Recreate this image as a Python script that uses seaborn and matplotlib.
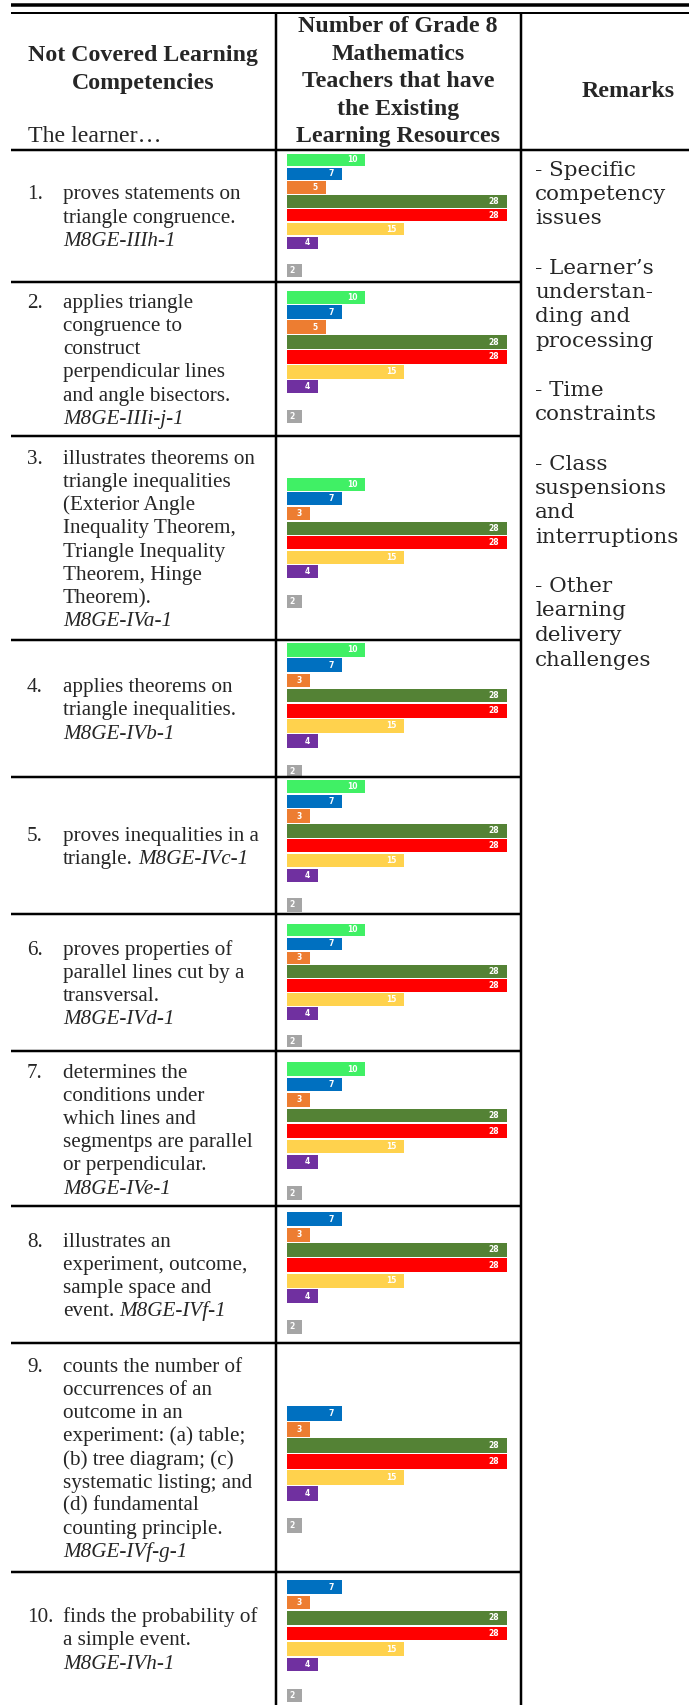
import matplotlib
matplotlib.use("Agg")
import matplotlib.pyplot as plt
import seaborn as sns
from matplotlib.lines import Line2D

# ---------------------------------------------------------------- data
resource_types = ["Textbook", "Learner's Material", "Teacher's Guide", "Module",
                  "Activity Sheets", "Video Lessons", "Worksheets", "Online Sources",
                  "Others"]
resource_colors = ["#40F065", "#0070C0", "#ED7D31", "#548235", "#FF0000",
                   "#FFD24D", "#7030A0", "#FFFFFF", "#A5A5A5"]

counts_1 = [10, 7, 5, 28, 28, 15, 4, 0, 2]
counts_2 = [10, 7, 5, 28, 28, 15, 4, 0, 2]
counts_3 = [10, 7, 3, 28, 28, 15, 4, 0, 2]
counts_4 = [10, 7, 3, 28, 28, 15, 4, 0, 2]
counts_5 = [10, 7, 3, 28, 28, 15, 4, 0, 2]
counts_6 = [10, 7, 3, 28, 28, 15, 4, 0, 2]
counts_7 = [10, 7, 3, 28, 28, 15, 4, 0, 2]
counts_8 = [0, 7, 3, 28, 28, 15, 4, 0, 2]
counts_9 = [0, 7, 3, 28, 28, 15, 4, 0, 2]
counts_10 = [0, 7, 3, 28, 28, 15, 4, 0, 2]
all_counts = [counts_1, counts_2, counts_3, counts_4, counts_5,
              counts_6, counts_7, counts_8, counts_9, counts_10]

competency_lines = [
    ["proves statements on", "triangle congruence."],
    ["applies triangle", "congruence to", "construct", "perpendicular lines",
     "and angle bisectors."],
    ["illustrates theorems on", "triangle inequalities", "(Exterior Angle",
     "Inequality Theorem,", "Triangle Inequality", "Theorem, Hinge", "Theorem)."],
    ["applies theorems on", "triangle inequalities."],
    ["proves inequalities in a", "triangle."],
    ["proves properties of", "parallel lines cut by a", "transversal."],
    ["determines the", "conditions under", "which lines and",
     "segmentps are parallel", "or perpendicular."],
    ["illustrates an", "experiment, outcome,", "sample space and", "event."],
    ["counts the number of", "occurrences of an", "outcome in an",
     "experiment: (a) table;", "(b) tree diagram; (c)", "systematic listing; and",
     "(d) fundamental", "counting principle."],
    ["finds the probability of", "a simple event."],
]
competency_codes = ["M8GE-IIIh-1", "M8GE-IIIi-j-1", "M8GE-IVa-1", "M8GE-IVb-1",
                    "M8GE-IVc-1", "M8GE-IVd-1", "M8GE-IVe-1", "M8GE-IVf-1",
                    "M8GE-IVf-g-1", "M8GE-IVh-1"]
code_inline = [False, False, False, False, True, False, False, True, False, False]

remarks_lines = ["- Specific", "competency", "issues", "",
                 "- Learner\u2019s", "understan-", "ding and", "processing", "",
                 "- Time", "constraints", "",
                 "- Class", "suspensions", "and", "interruptions", "",
                 "- Other", "learning", "delivery", "challenges"]

header_col1 = ["Not Covered Learning", "Competencies"]
header_col2 = ["Number of Grade 8", "Mathematics", "Teachers that have",
               "the Existing", "Learning Resources"]
header_col3 = "Remarks"
header_lead = "The learner\u2026"

# ---------------------------------------------------------------- layout (pixels)
W, H = 689, 1705
row_edges = [149.5, 281.5, 436, 640, 777, 914, 1051, 1206, 1343, 1572, 1705]
slot_first = [160, 297.3, 484.3, 650, 786.5, 930, 1069, 1203.8, 1397.5, 1571.5]
slot_step = [13.8, 14.9, 14.6, 15.2, 14.8, 13.9, 15.5, 15.4, 16.0, 15.5]
col_x = [11, 275.5, 521, 689]
bar_x0, bar_w = 286.5, 220.0

sns.set_theme(style="white")
plt.rcParams["font.family"] = ["Liberation Serif", "DejaVu Serif"]

fig = plt.figure(figsize=(W / 100, H / 100), dpi=100)
fig.patch.set_facecolor("white")


def fx(x):
    return x / W


def fy(y):
    return 1 - y / H


def px(n):
    return n * 0.72


def hline(y, x0, x1, lw):
    fig.add_artist(Line2D([fx(x0), fx(x1)], [fy(y), fy(y)], transform=fig.transFigure,
                          color="black", lw=px(lw), solid_capstyle="butt", zorder=10))


def vline(x, y0, y1, lw):
    fig.add_artist(Line2D([fx(x), fx(x)], [fy(y0), fy(y1)], transform=fig.transFigure,
                          color="black", lw=px(lw), solid_capstyle="butt", zorder=10))


BODY = 15.2
HEAD = 17.2
REM = 15.4
LINE = 23.2
BASE = 7.0
HSTEP = 27.5

# ---------------------------------------------------------------- mini bar charts
for i, counts in enumerate(all_counts):
    step = slot_step[i]
    top = slot_first[i] - step / 2
    height = step * len(resource_types)
    ax = fig.add_axes([fx(bar_x0), fy(top + height), bar_w / W, height / H])
    sns.barplot(x=counts, y=resource_types, hue=resource_types,
                palette=resource_colors, orient="h", width=0.9, saturation=1,
                linewidth=0, legend=False, ax=ax)
    ax.set_xlim(0, 28)
    ax.set_ylim(len(resource_types) - 0.5, -0.5)
    ax.axis("off")
    ax.patch.set_alpha(0)
    for j, v in enumerate(counts):
        if v > 0:
            ax.text(v - 1.0, j, str(v), ha="right", va="center", color="white",
                    fontsize=5.5, fontweight="bold", family="DejaVu Sans")

# ---------------------------------------------------------------- table rules
hline(5.0, 11, W, 3.5)
hline(12.5, 11, W, 2)
hline(row_edges[0], 11, W, 2.5)
for y in row_edges[1:-1]:
    hline(y, 11, col_x[2], 2.5)
vline(col_x[1], 12.5, H, 2.5)
vline(col_x[2], 12.5, H, 2.5)

# ---------------------------------------------------------------- header
for k, t in enumerate(header_col1):
    fig.text(fx(143), fy(53 + k * HSTEP + 8), t, ha="center", va="baseline",
             fontsize=HEAD, fontweight="bold")
for k, t in enumerate(header_col2):
    fig.text(fx(398), fy(24 + k * HSTEP + 8), t, ha="center", va="baseline",
             fontsize=HEAD, fontweight="bold")
fig.text(fx(628), fy(89 + 8), header_col3, ha="center", va="baseline",
         fontsize=HEAD, fontweight="bold")
fig.text(fx(28), fy(134.5 + 8), header_lead, ha="left", va="baseline", fontsize=HEAD)

# ---------------------------------------------------------------- competencies
renderer = fig.canvas.get_renderer()
for i, lines in enumerate(competency_lines):
    segs = [[(t, False)] for t in lines]
    if code_inline[i]:
        segs[-1].append((competency_codes[i], True))
    else:
        segs.append([(competency_codes[i], True)])
    n = len(segs)
    center = (row_edges[i] + row_edges[i + 1]) / 2
    first = center - (n - 1) / 2 * LINE
    fig.text(fx(27), fy(first + BASE), f"{i + 1}.", ha="left", va="baseline",
             fontsize=BODY)
    for k, seg in enumerate(segs):
        x = 63.0
        y = first + k * LINE + BASE
        for t, italic in seg:
            txt = fig.text(fx(x), fy(y), t, ha="left", va="baseline", fontsize=BODY,
                           fontstyle="italic" if italic else "normal")
            x += txt.get_window_extent(renderer).width + 5.0

# ---------------------------------------------------------------- remarks
for k, t in enumerate(remarks_lines):
    if t:
        fig.text(fx(535), fy(168.5 + k * 24.5 + BASE), t, ha="left", va="baseline",
                 fontsize=REM, family="DejaVu Serif")

fig.savefig("out.png", dpi=100, facecolor="white")
